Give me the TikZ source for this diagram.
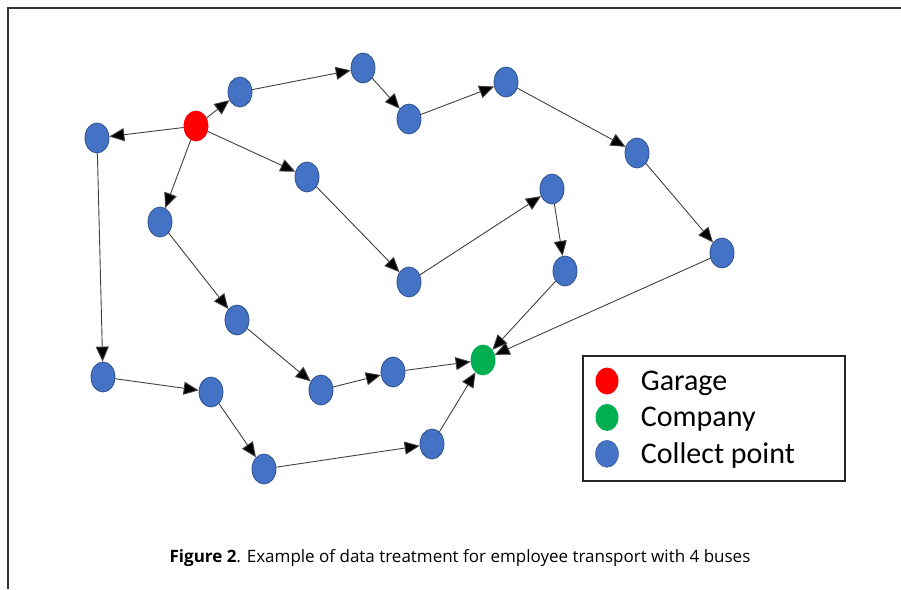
\documentclass[tikz,border=0pt]{standalone}
\usepackage{fontspec}
\setmainfont{Open Sans}
\newfontfamily\legendfont{Carlito}
\usetikzlibrary{arrows.meta,positioning,shapes.geometric}

\definecolor{stopblue}{HTML}{4472C4}
\definecolor{stopedge}{HTML}{2F528F}
\definecolor{garagered}{HTML}{FF0000}
\definecolor{companygreen}{HTML}{00B050}

\begin{document}
\begin{tikzpicture}[x=1pt, y=-1pt,
  stop/.style={ellipse, draw=stopedge, fill=stopblue, line width=0.8pt,
               minimum width=24pt, minimum height=30pt, inner sep=0pt},
  garage/.style={stop, draw=garagered, fill=garagered},
  company/.style={stop, draw=companygreen, fill=companygreen},
  arr/.style={-{Triangle[length=15pt,width=13pt,fill=black]}, line width=0.9pt, draw=black!75},
  keydot/.style={ellipse, minimum width=23pt, minimum height=27pt, inner sep=0pt},
  keytext/.style={font=\legendfont\fontsize{30}{32}\selectfont, right=22pt of #1, yshift=-2pt}
]
  \useasboundingbox (0,0) rectangle (901,589);
  % frame
  \draw[line width=1.6pt, black!80] (8,589) -- (8,8) -- (901,8);

  % depots
  \node[garage]  (gar) at (196,126) {};
  \node[company] (com) at (483,360) {};

  % collect points
  \node[stop] (a) at (97,138)  {};
  \node[stop] (b) at (240,92)  {};
  \node[stop] (c) at (363,68)  {};
  \node[stop] (d) at (409,119) {};
  \node[stop] (e) at (506,82)  {};
  \node[stop] (f) at (637,153) {};
  \node[stop] (g) at (722,253) {};
  \node[stop] (h) at (307,177) {};
  \node[stop] (i) at (160,222) {};
  \node[stop] (j) at (409,282) {};
  \node[stop] (k) at (552,189) {};
  \node[stop] (l) at (565,271) {};
  \node[stop] (m) at (237,320) {};
  \node[stop] (n) at (321,390) {};
  \node[stop] (o) at (393,372) {};
  \node[stop] (p) at (103,377) {};
  \node[stop] (q) at (211,392) {};
  \node[stop] (r) at (264,469) {};
  \node[stop] (s) at (432,444) {};

  % bus 1
  \draw[arr] (gar) -- (b);
  \draw[arr] (b) -- (c);
  \draw[arr] (c) -- (d);
  \draw[arr] (d) -- (e);
  \draw[arr] (e) -- (f);
  \draw[arr] (f) -- (g);
  \draw[arr] (g) -- (com);
  % bus 2
  \draw[arr] (gar) -- (h);
  \draw[arr] (h) -- (j);
  \draw[arr] (j) -- (k);
  \draw[arr] (k) -- (l);
  \draw[arr] (l) -- (com);
  % bus 3
  \draw[arr] (gar) -- (i);
  \draw[arr] (i) -- (m);
  \draw[arr] (m) -- (n);
  \draw[arr] (n) -- (o);
  \draw[arr] (o) -- (com);
  % bus 4
  \draw[arr] (gar) -- (a);
  \draw[arr] (a) -- (p);
  \draw[arr] (p) -- (q);
  \draw[arr] (q) -- (r);
  \draw[arr] (r) -- (s);
  \draw[arr] (s) -- (com);

  % legend
  \node[draw=black!85, line width=1.6pt, minimum width=262pt, minimum height=125pt,
        inner sep=0pt] (key) at (714,418.5) {};
  \node[keydot, fill=garagered]    (kg) at (607,381) {};
  \node[keydot, fill=companygreen, below=9pt of kg] (kc) {};
  \node[keydot, fill=stopblue, draw=stopedge, below=9pt of kc] (kb) {};
  \node[keytext=kg, inner xsep=0pt] (tg) {Garage};
  \node[keytext=kc, inner xsep=0pt] (tc) {Company};
  \node[keytext=kb, inner xsep=0pt] (tb) {Collect point};

  % caption
  \node[font=\fontsize{17}{19}\selectfont] (cap) at (460,558)
    {\textbf{Figure 2}. Example of data treatment for employee transport with 4 buses};
\end{tikzpicture}
\end{document}
